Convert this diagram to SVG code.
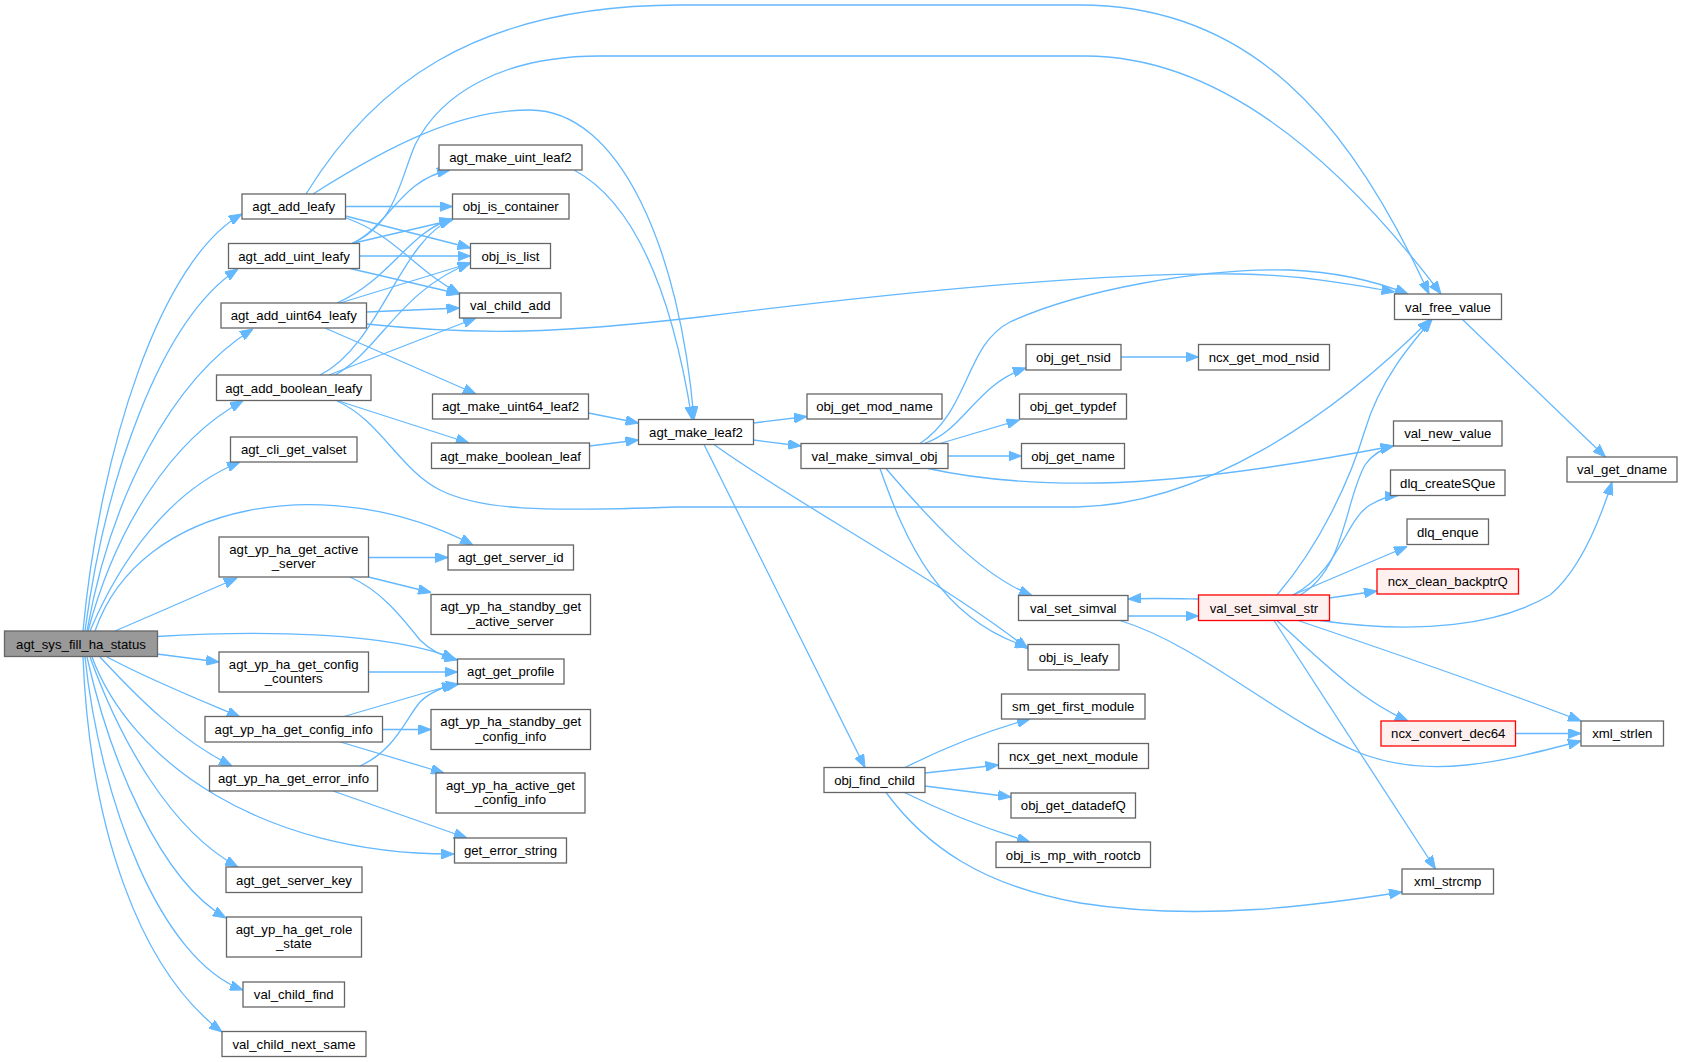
<svg xmlns="http://www.w3.org/2000/svg" width="1683" height="1062" viewBox="0 0 1683 1062">
<defs>
<style>
.n rect{fill:#ffffff;stroke:#666666;stroke-width:1.3}
.n.root rect{fill:#999999}
.n.red rect{fill:#fff0f0;stroke:#ff0000}
.n text{font-family:"Liberation Sans",Arial,sans-serif;font-size:13.2px;text-anchor:middle;fill:#000000}
#edges path{fill:none;stroke:#63b8ff;stroke-width:1.3;marker-end:url(#arr)}
</style>
<marker id="arr" markerUnits="userSpaceOnUse" markerWidth="13" markerHeight="10" viewBox="0 0 13 10" refX="13" refY="5" orient="auto">
<path d="M0,0 L13,5 L0,10 z" fill="#63b8ff" stroke="#63b8ff" stroke-width="1"/>
</marker>
</defs>
<rect width="1683" height="1062" fill="#ffffff"/>
<g id="edges">
<!-- root -->
<path d="M83,631 C100,450 160,260 242,214"/>
<path d="M85,631 C105,480 160,320 238,269"/>
<path d="M87,631 C110,500 170,380 253,329"/>
<path d="M88,631 C115,530 170,440 243,401"/>
<path d="M90,631 C120,560 170,490 240,462"/>
<path d="M95,631 C140,500 330,470 473,545"/>
<path d="M115,631 C155,614 200,594 237,578"/>
<path d="M157,636.5 C260,630 390,632 455,659"/>
<path d="M157,654 L219,662"/>
<path d="M107,657 C150,680 200,700 240,717"/>
<path d="M100,657 C140,700 180,740 232,766"/>
<path d="M92,657 C130,760 260,855 454,854"/>
<path d="M90,657 C120,740 170,830 238,867"/>
<path d="M87,657 C110,760 160,880 226,918"/>
<path d="M85,657 C100,800 160,960 243,990"/>
<path d="M83,657 C90,830 140,970 222,1032"/>
<!-- agt_add_leafy -->
<path d="M345.5,206.5 L452.5,206.5"/>
<path d="M345.5,216 L470.5,248"/>
<path d="M346,218 C395,235 415,270 460,294"/>
<path d="M306,194 C370,90 470,5 680,5 L1080,5 C1250,5 1350,120 1429,294"/>
<path d="M313,194 C390,145 460,110 530,110 C620,110 680,250 694,419.5"/>
<!-- agt_add_uint_leafy -->
<path d="M352,243.5 C390,225 400,180 450,170"/>
<path d="M352,243.5 L452.5,220"/>
<path d="M359.5,256 L470.5,256"/>
<path d="M350,268.5 L459.5,294"/>
<path d="M352,243.5 C395,225 400,180 415,145 C440,95 500,56 600,56 L1085,56 C1220,56 1340,160 1441,294"/>
<!-- agt_add_uint64_leafy -->
<path d="M337,303 C390,280 410,230 452.5,219"/>
<path d="M340,303 L470.5,263"/>
<path d="M366.5,312 L459.5,308"/>
<path d="M366.5,324 C480,336 560,333 700,317 C900,292 1100,272 1240,274 C1300,275 1350,284 1394.5,292"/>
<path d="M325,328 L476,394"/>
<!-- agt_add_boolean_leafy -->
<path d="M320,375 C380,345 400,240 452.5,219"/>
<path d="M335,375 C380,350 400,290 470.5,263"/>
<path d="M329,375 L476,318"/>
<path d="M337,400.5 L469,443"/>
<path d="M337,401 C380,420 400,470 440,490 C480,510 540,512 676,507 L1077,507 C1200,505 1330,420 1430,319.5"/>
<!-- make leafs -->
<path d="M574,170 C630,200 670,280 692,419.5"/>
<path d="M588.5,413 L638.5,423"/>
<path d="M589.5,446 L638.5,440"/>
<!-- agt_make_leaf2 -->
<path d="M753.5,423 L807,416.5"/>
<path d="M753.5,440 L801,446"/>
<path d="M714,444.5 C790,500 940,580 1028,649"/>
<path d="M704,444.5 L865,767.5"/>
<!-- val_make_simval_obj -->
<path d="M924,443.5 C965,430 975,385 1026,368"/>
<path d="M920,443.5 C970,410 965,345 1010,322 C1080,290 1200,268 1290,270 C1340,272 1380,283 1408,294"/>
<path d="M940,443.5 L1019.5,420"/>
<path d="M948,456 L1021.5,456"/>
<path d="M928,468.5 C980,480 1040,484 1100,483 C1200,481 1320,460 1393.5,446"/>
<path d="M886,468.5 C930,520 980,575 1032,595.5"/>
<path d="M880,468.5 C905,540 940,620 1028,647"/>
<!-- obj_get_nsid -->
<path d="M1121,357 L1198.5,357"/>
<!-- val_free_value -->
<path d="M1462.5,319.5 L1605.5,457"/>
<!-- val_set_simval / str -->
<path d="M1198.5,599 C1170,598.5 1150,598 1128,599"/>
<path d="M1128,616 L1198.5,616"/>
<path d="M1120,620.5 C1200,645 1280,720 1360,753 C1430,780 1500,762 1581,741"/>
<path d="M1277,595 C1320,545 1350,480 1365,430 C1380,380 1410,345 1432,319.5"/>
<path d="M1300,595 C1345,570 1345,500 1365,465 C1372,455 1380,449 1393.5,446"/>
<path d="M1293,595 C1340,570 1345,520 1370,505 C1380,499 1390,496 1398,495.5"/>
<path d="M1293,595 L1407,546.5"/>
<path d="M1329.5,598 L1377,591"/>
<path d="M1320,620.5 C1420,635 1500,625 1550,595 C1580,570 1600,520 1612,482"/>
<path d="M1277,620.5 C1320,660 1360,700 1408,721"/>
<path d="M1298,620.5 C1400,655 1500,690 1581,721"/>
<path d="M1274,620.5 L1435.5,869"/>
<path d="M1515.5,733.5 L1581,733.5"/>
<!-- obj_find_child -->
<path d="M905,767.5 C950,745 990,730 1030,719"/>
<path d="M925,773 L998.5,765"/>
<path d="M925,786 L1011,797"/>
<path d="M904.5,792.5 C950,815 990,830 1030,842"/>
<path d="M886,792.5 C925,845 980,885 1080,903 C1200,922 1320,905 1402,892"/>
<!-- active server -->
<path d="M368.5,557.5 L448,557.5"/>
<path d="M368.5,577 L431,592.5"/>
<path d="M350,577 C380,590 400,615 420,640 C432,652 445,657 457.5,660"/>
<!-- config counters -->
<path d="M368.5,672 L457.5,672"/>
<!-- config info -->
<path d="M344,716.5 L455,684"/>
<path d="M382.5,729.5 L431,729.5"/>
<path d="M340.5,742 L444,773"/>
<!-- error info -->
<path d="M360,766 C395,750 405,720 420,702 C430,692 442,687 459,684"/>
<path d="M333,791 L467,838"/>
</g>
<g id="n_agt_sys_fill_ha_status" class="n root"><rect x="4.5" y="631" width="153" height="25.5"/><text x="81" y="648.5">agt_sys_fill_ha_status</text></g>
<g id="n_agt_add_leafy" class="n"><rect x="242" y="194" width="103.5" height="25"/><text x="293.75" y="211.3">agt_add_leafy</text></g>
<g id="n_agt_add_uint_leafy" class="n"><rect x="228.5" y="243.5" width="131" height="25"/><text x="294" y="260.8">agt_add_uint_leafy</text></g>
<g id="n_agt_add_uint64_leafy" class="n"><rect x="221" y="303" width="145.5" height="25"/><text x="293.75" y="320.3">agt_add_uint64_leafy</text></g>
<g id="n_agt_add_boolean_leafy" class="n"><rect x="216.5" y="375" width="154.5" height="25.5"/><text x="293.75" y="392.5">agt_add_boolean_leafy</text></g>
<g id="n_agt_cli_get_valset" class="n"><rect x="230.5" y="437" width="126.5" height="25"/><text x="293.75" y="454.3">agt_cli_get_valset</text></g>
<g id="n_agt_yp_ha_get_active_server" class="n"><rect x="219" y="537" width="149.5" height="40"/><text x="293.75" y="553.5">agt_yp_ha_get_active</text><text x="293.75" y="568">_server</text></g>
<g id="n_agt_yp_ha_get_config_counters" class="n"><rect x="219" y="652" width="149.5" height="40"/><text x="293.75" y="668.5">agt_yp_ha_get_config</text><text x="293.75" y="683">_counters</text></g>
<g id="n_agt_yp_ha_get_config_info" class="n"><rect x="205" y="716.5" width="177.5" height="25.5"/><text x="293.75" y="734">agt_yp_ha_get_config_info</text></g>
<g id="n_agt_yp_ha_get_error_info" class="n"><rect x="209.5" y="766" width="168" height="25"/><text x="293.5" y="783.3">agt_yp_ha_get_error_info</text></g>
<g id="n_agt_get_server_key" class="n"><rect x="226" y="867" width="136" height="25.5"/><text x="294" y="884.5">agt_get_server_key</text></g>
<g id="n_agt_yp_ha_get_role_state" class="n"><rect x="226.5" y="917" width="135" height="40"/><text x="294" y="933.5">agt_yp_ha_get_role</text><text x="294" y="948">_state</text></g>
<g id="n_val_child_find" class="n"><rect x="243" y="982" width="101.5" height="25"/><text x="293.75" y="999.3">val_child_find</text></g>
<g id="n_val_child_next_same" class="n"><rect x="222" y="1031.5" width="144" height="25"/><text x="294" y="1048.8">val_child_next_same</text></g>
<g id="n_agt_make_uint_leaf2" class="n"><rect x="439" y="145" width="143" height="25"/><text x="510.5" y="162.3">agt_make_uint_leaf2</text></g>
<g id="n_obj_is_container" class="n"><rect x="452.5" y="194" width="116.5" height="25"/><text x="510.75" y="211.3">obj_is_container</text></g>
<g id="n_obj_is_list" class="n"><rect x="470.5" y="243.5" width="80" height="25"/><text x="510.5" y="260.8">obj_is_list</text></g>
<g id="n_val_child_add" class="n"><rect x="459.5" y="293" width="101.5" height="25"/><text x="510.25" y="310.3">val_child_add</text></g>
<g id="n_agt_make_uint64_leaf2" class="n"><rect x="432.5" y="394" width="156" height="25"/><text x="510.5" y="411.3">agt_make_uint64_leaf2</text></g>
<g id="n_agt_make_boolean_leaf" class="n"><rect x="431.5" y="443" width="158" height="25.5"/><text x="510.5" y="460.5">agt_make_boolean_leaf</text></g>
<g id="n_agt_get_server_id" class="n"><rect x="448" y="545" width="125.5" height="25"/><text x="510.75" y="562.3">agt_get_server_id</text></g>
<g id="n_agt_yp_ha_standby_get_active_server" class="n"><rect x="431" y="594.5" width="159.5" height="40"/><text x="510.75" y="611">agt_yp_ha_standby_get</text><text x="510.75" y="625.5">_active_server</text></g>
<g id="n_agt_get_profile" class="n"><rect x="457.5" y="659" width="106.5" height="25"/><text x="510.75" y="676.3">agt_get_profile</text></g>
<g id="n_agt_yp_ha_standby_get_config_info" class="n"><rect x="431" y="709.5" width="159.5" height="40"/><text x="510.75" y="726">agt_yp_ha_standby_get</text><text x="510.75" y="740.5">_config_info</text></g>
<g id="n_agt_yp_ha_active_get_config_info" class="n"><rect x="436" y="773" width="149" height="40"/><text x="510.5" y="789.5">agt_yp_ha_active_get</text><text x="510.5" y="804">_config_info</text></g>
<g id="n_get_error_string" class="n"><rect x="454.5" y="838" width="112" height="25"/><text x="510.5" y="855.3">get_error_string</text></g>
<g id="n_agt_make_leaf2" class="n"><rect x="638.5" y="419.5" width="115" height="25"/><text x="696" y="436.8">agt_make_leaf2</text></g>
<g id="n_obj_get_mod_name" class="n"><rect x="807" y="394" width="135" height="25"/><text x="874.5" y="411.3">obj_get_mod_name</text></g>
<g id="n_val_make_simval_obj" class="n"><rect x="801" y="443.5" width="147" height="25"/><text x="874.5" y="460.8">val_make_simval_obj</text></g>
<g id="n_obj_find_child" class="n"><rect x="824" y="767.5" width="101" height="25"/><text x="874.5" y="784.8">obj_find_child</text></g>
<g id="n_obj_get_nsid" class="n"><rect x="1026" y="344.5" width="95" height="25.5"/><text x="1073.5" y="362">obj_get_nsid</text></g>
<g id="n_obj_get_typdef" class="n"><rect x="1019.5" y="394" width="107" height="25"/><text x="1073" y="411.3">obj_get_typdef</text></g>
<g id="n_obj_get_name" class="n"><rect x="1021.5" y="443.5" width="103" height="25"/><text x="1073" y="460.8">obj_get_name</text></g>
<g id="n_val_set_simval" class="n"><rect x="1018.5" y="595.5" width="109.5" height="25"/><text x="1073.25" y="612.8">val_set_simval</text></g>
<g id="n_obj_is_leafy" class="n"><rect x="1028" y="644.5" width="91" height="25.5"/><text x="1073.5" y="662">obj_is_leafy</text></g>
<g id="n_sm_get_first_module" class="n"><rect x="1001.5" y="694" width="143.5" height="25"/><text x="1073.25" y="711.3">sm_get_first_module</text></g>
<g id="n_ncx_get_next_module" class="n"><rect x="998.5" y="743.5" width="150" height="25"/><text x="1073.5" y="760.8">ncx_get_next_module</text></g>
<g id="n_obj_get_datadefQ" class="n"><rect x="1011" y="793" width="124.5" height="25"/><text x="1073.25" y="810.3">obj_get_datadefQ</text></g>
<g id="n_obj_is_mp_with_rootcb" class="n"><rect x="996" y="842" width="154.5" height="25.5"/><text x="1073.25" y="859.5">obj_is_mp_with_rootcb</text></g>
<g id="n_ncx_get_mod_nsid" class="n"><rect x="1198.5" y="344.5" width="131" height="25.5"/><text x="1264" y="362">ncx_get_mod_nsid</text></g>
<g id="n_val_set_simval_str" class="n red"><rect x="1198.5" y="595" width="131" height="25.5"/><text x="1264" y="612.5">val_set_simval_str</text></g>
<g id="n_val_free_value" class="n"><rect x="1394.5" y="294" width="107" height="25.5"/><text x="1448" y="311.5">val_free_value</text></g>
<g id="n_val_new_value" class="n"><rect x="1393.5" y="421" width="108.5" height="25"/><text x="1447.75" y="438.3">val_new_value</text></g>
<g id="n_dlq_createSQue" class="n"><rect x="1390.5" y="470" width="114.5" height="25.5"/><text x="1447.75" y="487.5">dlq_createSQue</text></g>
<g id="n_dlq_enque" class="n"><rect x="1407" y="519" width="81.5" height="25.5"/><text x="1447.75" y="536.5">dlq_enque</text></g>
<g id="n_ncx_clean_backptrQ" class="n red"><rect x="1377" y="569" width="141.5" height="25"/><text x="1447.75" y="586.3">ncx_clean_backptrQ</text></g>
<g id="n_ncx_convert_dec64" class="n red"><rect x="1381" y="721" width="134.5" height="25"/><text x="1448.25" y="738.3">ncx_convert_dec64</text></g>
<g id="n_xml_strcmp" class="n"><rect x="1402" y="869" width="91.5" height="25"/><text x="1447.75" y="886.3">xml_strcmp</text></g>
<g id="n_val_get_dname" class="n"><rect x="1567" y="457" width="110" height="25"/><text x="1622" y="474.3">val_get_dname</text></g>
<g id="n_xml_strlen" class="n"><rect x="1581" y="721" width="82.5" height="25"/><text x="1622.25" y="738.3">xml_strlen</text></g>
</svg>
